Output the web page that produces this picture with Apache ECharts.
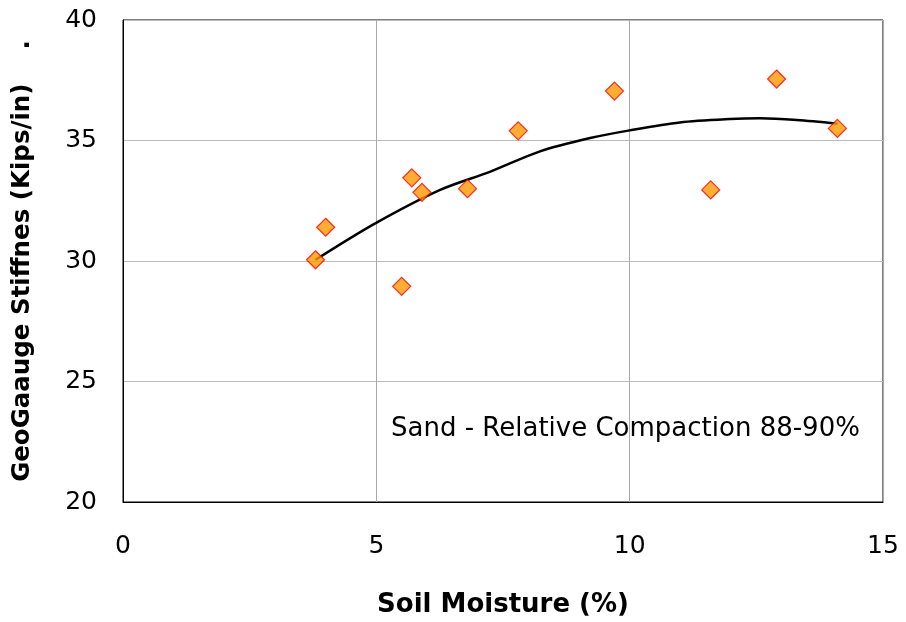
<!DOCTYPE html>
<html>
<head>
<meta charset="utf-8">
<script src="https://cdn.jsdelivr.net/npm/echarts@6/dist/echarts.min.js"></script>
<style>
  html, body { margin: 0; padding: 0; background: #fff; }
  #main { width: 906px; height: 622px; }
</style>
</head>
<body>
<div id="main"></div>
<script>
// measured points: soil moisture (%) vs stiffness (kips/in)
var moisture = [3.8, 4.0, 5.5, 5.7, 5.9, 6.8, 7.8, 9.7, 11.6, 12.9, 14.1];
var stiffness = [30.05, 31.4, 28.95, 33.45, 32.85, 33.0, 35.4, 37.05, 32.95, 37.55, 35.5];

// trend line
var trendX = [3.8, 4.97, 6.26, 7.24, 8.23, 9.22, 10.0, 10.99, 11.98, 12.57, 13.3, 14.1];
var trendY = [30.05, 31.55, 32.95, 33.7, 34.55, 35.1, 35.42, 35.75, 35.89, 35.92, 35.85, 35.7];

var xTicks = [0, 5, 10, 15];
var yTicks = [20, 25, 30, 35, 40];

var myChart = echarts.init(document.getElementById("main"));

var font = "DejaVu Sans, Verdana, sans-serif";

var option = {
    animation: false,
    grid: {
        left: 123,
        right: 23,
        top: 20,
        bottom: 120,
        outerBoundsMode: "none",
        show: true,
        borderColor: "#000",
        borderWidth: 1,
    },
    xAxis: {
        type: "value",
        min: xTicks[0],
        max: xTicks[xTicks.length - 1],
        interval: 5,
        name: "Soil Moisture (%)",
        nameLocation: "middle",
        nameGap: 90,
        nameTextStyle: { fontFamily: font, fontSize: 26, fontWeight: "bold", color: "#000" },
        axisLine: { lineStyle: { color: "#000" } },
        axisTick: { show: false },
        axisLabel: { fontFamily: font, fontSize: 25, color: "#000", margin: 32 },
        splitLine: { show: true, lineStyle: { color: "#aaa" } },
    },
    yAxis: {
        type: "value",
        min: yTicks[0],
        max: yTicks[yTicks.length - 1],
        interval: 5,
        name: "GeoGaauge Stiffnes (Kips/in)    .",
        nameLocation: "middle",
        nameGap: 88,
        nameTextStyle: { fontFamily: font, fontSize: 24.5, fontWeight: "bold", color: "#000" },
        axisLine: { lineStyle: { color: "#000" } },
        axisTick: { show: false },
        axisLabel: { fontFamily: font, fontSize: 25, color: "#000", margin: 26 },
        splitLine: { show: true, lineStyle: { color: "#bbb" } },
    },
    series: [
        {
            type: "line",
            data: trendX.map(function (x, i) { return [x, trendY[i]]; }),
            smooth: 0.3,
            symbol: "none",
            lineStyle: { color: "#000", width: 2.5 },
            z: 2,
        },
        {
            type: "scatter",
            data: moisture.map(function (x, i) { return [x, stiffness[i]]; }),
            symbol: "diamond",
            symbolSize: 18,
            itemStyle: { color: "#FF9900", borderColor: "#FF0000", borderWidth: 1.2 },
            z: 3,
        },
    ],
    graphic: [
        {
            type: "text",
            left: 391,
            top: 416,
            style: {
                text: "Sand - Relative Compaction 88-90%",
                font: "26px " + font,
                fill: "#000",
            },
        },
    ],
};

myChart.setOption(option);
</script>
</body>
</html>
